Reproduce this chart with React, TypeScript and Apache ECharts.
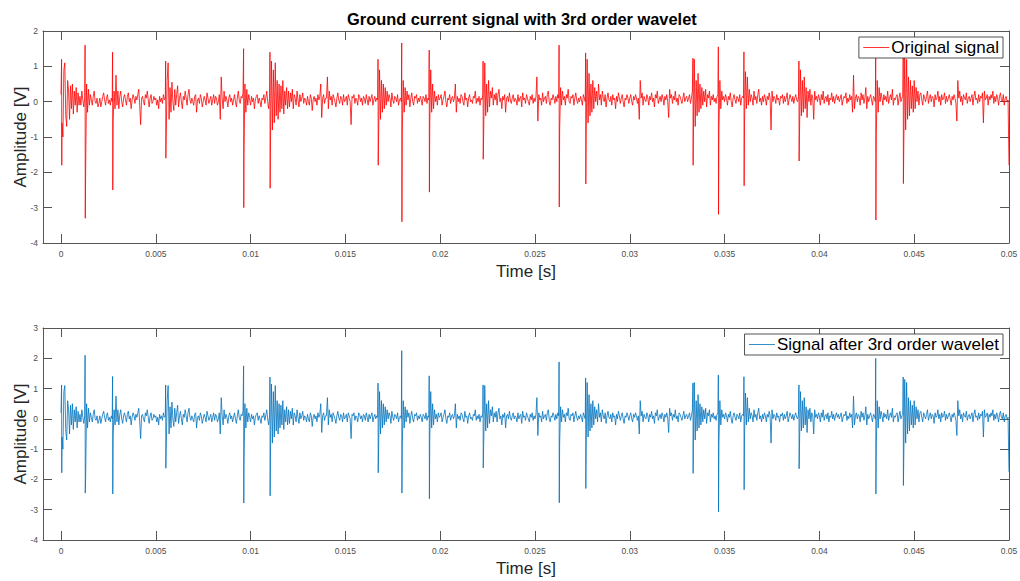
import React, { useEffect, useRef } from "react";
import * as echarts from "echarts";

// sample step of the baseline trace [s]
const STEP = 0.00005;

// baseline trace, one row per ms (20 samples)
const baseline = [
  0.2, -0.6, -1.0, 0.9, 1.1, -0.4, -0.7, 0.6, 0.3, -0.5, 0.45, -0.2, 0.5, -0.35, 0.3, -0.1, 0.4, -0.3, 0.25, -0.1,
  0.15, -0.1, 0.3, 0.05, -0.15, 0.1, -1.9, 0.5, -0.3, 0.35, -0.1, 0.2, 0.05, -0.1, 0.15, 0.3, 0.0, -0.05, 0.1, -0.15,
  -0.05, 0.1, -0.15, 0.0, 0.15, 0.25, 0.05, -0.1, 0.1, 0.2, -0.05, 0.05, -0.1, 0.1, 0.0, -0.6, 0.3, -0.2, 0.75, -0.1,
  0.3, -0.2, 0.15, 0.3, 0.0, -0.15, 0.1, 0.2, 0.05, -0.1, 0.15, 0.25, 0.0, 0.1, -0.2, 0.05, 0.2, 0.1, -0.05, 0.15,
  0.05, 0.2, 0.35, -0.1, -0.65, 0.1, 0.15, 0.0, -0.1, 0.2, 0.1, 0.3, 0.05, -0.15, 0.1, 0.2, -0.05, 0.0, 0.15, 0.05,
  0.1, -0.1, 0.05, -0.2, 0.15, 0.0, 0.1, -0.05, 0.2, 0.05, 0.1, -0.9, 0.6, 1.1, -0.5, 0.4, -0.3, 0.55, 0.0, -0.25,
  0.35, -0.1, 0.2, 0.45, -0.15, 0.1, 0.25, 0.0, -0.2, 0.15, 0.05, 0.3, 0.1, -0.1, 0.2, 0.35, 0.05, -0.05, 0.1, 0.0,
  -0.1, 0.15, 0.2, -0.3, 0.05, 0.1, -0.05, 0.2, 0.1, -0.15, 0.0, 0.15, 0.05, -0.1, 0.25, 0.1, -0.05, 0.05, 0.15, -0.1,
  0.05, 0.2, -0.05, 0.15, 0.1, -0.1, 0.0, 0.2, -0.5, 0.7, 0.1, -0.2, 0.3, 0.0, 0.15, 0.05, -0.15, 0.1, 0.2, 0.0,
  0.1, -0.1, 0.05, 0.2, 0.0, -0.15, 0.1, 0.3, 0.05, -0.05, 0.15, 0.1, 0.25, -1.5, 0.5, -0.3, 0.35, -0.1, 0.2, 0.05,
  -0.1, 0.15, 0.0, 0.1, -0.2, 0.05, 0.15, 0.2, -0.05, 0.1, 0.0, -0.15, 0.1, 0.05, 0.2, -0.05, 0.1, 0.3, 0.0, -0.2,
  0.1, -1.0, 1.15, -0.8, 0.9, -0.6, 1.1, -0.4, 0.6, -0.5, 0.5, -0.3, 0.45, -0.2, 0.6, -0.35, 0.3, -0.1, 0.4, -0.2,
  0.3, -0.15, 0.25, 0.0, 0.35, -0.2, 0.2, 0.1, -0.1, 0.3, 0.05, -0.15, 0.2, 0.0, 0.1, 0.25, -0.05, 0.1, 0.05, -0.1,
  0.15, 0.0, -0.1, 0.2, 0.1, -0.25, 0.05, 0.15, 0.0, 0.1, -0.1, 0.2, 0.05, 0.15, 0.5, -0.45, 0.1, 0.2, -0.05, 0.1,
  0.1, 0.7, -0.2, 0.3, 0.05, 0.15, -0.1, 0.2, 0.1, 0.0, -0.15, 0.1, 0.25, 0.05, -0.05, 0.15, 0.1, -0.1, 0.2, 0.0,
  0.05, 0.15, -0.1, 0.2, 0.1, 0.0, -0.65, 0.15, 0.1, 0.2, -0.05, 0.1, 0.05, -0.1, 0.2, 0.15, 0.0, 0.1, -0.1, 0.15,
  0.1, -0.05, 0.2, 0.05, -0.1, 0.15, 0.0, 0.1, 0.2, -0.1, 0.05, 0.15, 0.0, 0.1, 0.05, -1.0, 0.9, -0.5, 0.6, -0.3,
  0.5, -0.2, 0.4, -0.1, 0.3, 0.0, 0.2, 0.1, -0.15, 0.25, 0.05, -0.05, 0.15, 0.1, 0.0, 0.2, -0.1, 0.05, 0.1, 0.0,
  -0.9, 0.6, -0.3, 0.4, -0.1, 0.3, 0.05, 0.2, -0.15, 0.1, 0.25, 0.0, -0.1, 0.15, 0.1, 0.2, -0.05, 0.1, 0.0, 0.15,
  0.05, -0.1, 0.15, 0.1, 0.0, 0.2, -0.05, 0.1, 0.05, -0.6, 0.9, -0.3, 0.5, -0.2, 0.3, 0.0, 0.15, -0.1, 0.2, 0.05,
  0.1, 0.2, -0.1, 0.05, 0.15, 0.3, 0.0, -0.15, 0.1, 0.05, 0.2, -0.05, 0.1, 0.15, 0.0, 0.1, 0.5, -0.3, 0.15, 0.0,
  0.1, -0.05, 0.2, 0.15, 0.0, -0.1, 0.25, 0.05, 0.1, -0.15, 0.1, 0.2, 0.0, 0.05, -0.05, 0.15, 0.1, 0.3, -0.05, 0.1,
  0.0, 0.15, -0.1, 0.1, 0.05, 0.2, -0.6, 1.1, -0.4, 0.5, -0.3, 0.6, -0.15, 0.3, 0.1, 0.4, -0.1, 0.2, 0.05, 0.25,
  -0.1, 0.2, 0.35, 0.0, 0.1, -0.2, 0.15, 0.05, 0.2, -0.3, 0.1, 0.15, 0.0, 0.25, 0.05, -0.05, 0.1, 0.2, 0.0, 0.1,
  0.05, -0.1, 0.2, 0.0, 0.1, 0.15, -0.15, 0.25, 0.05, 0.1, -0.05, 0.2, 0.1, 0.0, -0.1, 0.15, 0.05, 0.2, -0.05, 0.1,
  0.0, 0.15, 0.7, -0.55, 0.2, 0.05, 0.1, -0.1, 0.25, 0.0, 0.1, 0.15, -0.05, 0.2, 0.3, 0.0, -0.1, 0.1, 0.05, 0.2,
  0.1, -0.05, 0.15, 0.0, 0.2, 0.1, -0.8, 0.4, -0.1, 0.3, 0.05, 0.15, -0.1, 0.2, 0.1, 0.35, 0.0, -0.05, 0.15, 0.1,
  0.2, -0.1, 0.1, 0.25, 0.05, -0.05, 0.1, 0.0, 0.15, 0.05, -0.1, 0.2, 0.1, 0.0, -0.9, 1.2, -0.6, 0.8, -0.4, 0.5,
  -0.3, 0.6, -0.2, 0.4, 0.0, 0.3, -0.1, 0.5, 0.05, 0.2, -0.1, 0.3, 0.1, 0.0, 0.2, -0.15, 0.1, 0.25, 0.05, 0.0,
  0.15, -0.1, 0.2, 0.05, 0.1, -0.2, 0.15, 0.0, 0.25, 0.1, -0.05, 0.1, 0.2, 0.0, -0.15, 0.1, 0.05, 0.2, 0.1, -0.05,
  0.1, 0.2, 0.0, -0.1, 0.15, 0.05, 0.2, 0.1, -0.05, 0.1, -0.5, 0.6, 0.1, 0.25, -0.1, 0.15, 0.05, 0.0, 0.2, 0.1,
  -0.1, 0.15, 0.05, 0.25, 0.0, 0.1, -0.15, 0.2, 0.1, 0.3, -0.05, 0.05, 0.15, 0.0, 0.2, 0.1, -0.1, 0.15, 0.05, 0.2,
  0.0, -0.45, 0.35, 0.1, 0.2, -0.05, 0.15, 0.05, 0.3, 0.0, 0.1, -0.1, 0.2, 0.15, 0.05, -0.05, 0.1, 0.25, 0.0, 0.1,
  0.15, 0.0, 0.1, 0.2, -0.05, 0.1, 0.3, -1.0, 1.2, -0.7, 0.6, -0.4, 0.8, -0.3, 0.5, -0.2, 0.4, -0.1, 0.3, 0.0,
  0.35, -0.15, 0.2, 0.1, 0.3, -0.1, 0.15, 0.05, 0.2, 0.0, 0.1, -0.05, 0.15, 0.2, -0.8, 0.6, -0.2, 0.3, 0.05, 0.15,
  0.0, 0.2, 0.1, -0.1, 0.15, 0.05, 0.25, 0.0, -0.15, 0.1, 0.2, 0.05, -0.05, 0.15, 0.1, 0.0, 0.2, -0.1, 0.1, 0.15,
  0.1, -0.6, 0.85, -0.2, 0.7, -0.1, 0.35, 0.0, 0.2, 0.1, -0.1, 0.3, 0.05, 0.15, -0.05, 0.2, 0.35, 0.0, 0.1, -0.1,
  0.15, 0.0, 0.2, 0.1, -0.1, 0.15, 0.05, 0.25, 0.1, -0.8, 0.3, 0.0, 0.15, 0.1, -0.05, 0.2, 0.05, 0.1, -0.1, 0.15,
  0.1, 0.2, -0.05, 0.15, 0.0, 0.1, 0.25, -0.1, 0.05, 0.2, 0.1, 0.0, 0.15, -0.05, 0.1, 0.2, 0.05, 0.0, 0.15, -0.9,
  0.9, -0.4, 0.6, -0.3, 0.7, -0.2, 0.4, -0.45, 0.3, 0.0, 0.35, -0.1, 0.2, 0.1, -0.5, 0.3, 0.05, 0.15, 0.0, 0.2,
  0.1, -0.1, 0.2, 0.05, 0.3, -0.05, 0.1, 0.15, 0.0, 0.2, -0.1, 0.1, 0.05, 0.25, 0.0, 0.15, -0.05, 0.1, 0.2, 0.05,
  0.15, 0.0, 0.1, 0.2, -0.1, 0.05, 0.15, 0.1, 0.25, -0.05, 0.1, 0.0, 0.2, 0.05, 0.15, -0.3, 0.75, -0.2, 0.1, 0.2,
  0.0, 0.15, 0.1, -0.1, 0.25, 0.05, 0.2, -0.05, 0.1, 0.4, -0.2, 0.15, 0.0, 0.1, 0.2, 0.05, -0.1, 0.15, 0.1, 0.0,
  -0.9, 0.6, -0.3, 0.4, 0.0, 0.25, 0.1, -0.1, 0.2, 0.05, 0.15, 0.0, 0.3, -0.05, 0.1, 0.2, 0.05, 0.35, -0.1, 0.1,
  0.05, 0.15, 0.2, -0.1, 0.1, 0.25, 0.0, 0.1, 0.15, -1.3, 1.3, -0.8, 1.2, -0.5, 0.7, -0.4, 0.6, -0.2, 0.45, -0.3,
  0.6, -0.2, 0.4, 0.0, 0.3, -0.1, 0.2, 0.25, 0.05, -0.1, 0.2, 0.1, 0.0, 0.15, 0.3, -0.05, 0.1, 0.2, 0.0, 0.15,
  0.1, -0.15, 0.2, 0.05, 0.1, 0.3, 0.0, 0.15, -0.1, 0.2, 0.05, 0.1, 0.25, -0.05, 0.15, 0.0, 0.1, 0.2, 0.05, -0.1,
  0.15, 0.05, 0.2, 0.1, -0.05, -0.55, 0.6, 0.1, 0.3, 0.0, 0.15, -0.1, 0.2, 0.1, 0.05, 0.25, -0.05, 0.1, 0.15, 0.0,
  0.1, 0.2, -0.1, 0.15, 0.3, 0.05, 0.1, -0.05, 0.2, 0.0, 0.15, 0.1, 0.25, -0.6, 0.3, 0.05, 0.1, 0.2, -0.1, 0.15,
  0.05, 0.2, 0.1, 0.3, -0.05, 0.15, 0.0, 0.2, 0.1, -0.1, 0.15, 0.25, 0.05, 0.0, 0.2, -0.1, 0.1, 0.15, 0.0, 0.05,
];

// partial-discharge spike instants [s]
const spikeTimes = [
  0.00003, 0.00127, 0.00272, 0.00552, 0.00963, 0.01102, 0.01672, 0.01797, 0.01942,
  0.02226, 0.02627, 0.02767, 0.03333, 0.03467, 0.03602, 0.03892, 0.04297, 0.04442,
];
// spike peaks, original signal
const origUp = [1.2, 1.6, 1.4, 1.15, 1.5, 1.4, 1.2, 1.66, 1.46, 1.15, 1.6, 1.38, 1.23, 1.55, 1.41, 1.15, 1.3, 1.25];
const origDown = [-1.8, -3.3, -2.5, -1.6, -3.0, -2.45, -1.8, -3.4, -2.56, -1.63, -2.98, -2.33, -1.8, -3.19, -2.38, -1.68, -3.35, -2.32];
// spike peaks, signal after wavelet
const waveUp = [1.12, 2.1, 1.4, 1.12, 1.75, 1.38, 1.18, 2.25, 1.42, 1.12, 1.88, 1.35, 1.18, 1.45, 1.39, 1.12, 2.0, 1.38];
const waveDown = [-1.78, -2.45, -2.48, -1.63, -2.78, -2.54, -1.78, -2.45, -2.64, -1.62, -2.77, -2.3, -1.8, -3.07, -2.34, -1.65, -2.48, -2.2];
// final sample at t = 0.05 s
const END_T = 0.05;
const origEnd = -1.8;
const waveEnd = -1.75;

const xTicks = [0, 0.005, 0.01, 0.015, 0.02, 0.025, 0.03, 0.035, 0.04, 0.045, 0.05];

function buildSeries(up: number[], down: number[], endVal: number): number[][] {
  const pts: number[][] = baseline.map((v, i) => [i * STEP, v]);
  spikeTimes.forEach((t, k) => {
    pts.push([t, up[k]]);
    pts.push([t + 0.00001, down[k]]);
  });
  pts.push([END_T, endVal]);
  pts.sort((a, b) => a[0] - b[0]);
  return pts;
}

const FONT = "'Liberation Sans', Arial, Helvetica, sans-serif";
const AXIS_COLOR = "#555555";
const LABEL_COLOR = "#4d4d4d";

function xAxes(gridIndex: number) {
  return [
    {
      type: "value",
      gridIndex,
      min: -0.00095,
      max: 0.05,
      position: "bottom",
      name: "Time [s]",
      nameLocation: "middle",
      nameGap: 20,
      nameTextStyle: { fontSize: 17, color: "#262626", fontFamily: FONT },
      axisLine: { show: true, onZero: false, lineStyle: { color: AXIS_COLOR, width: 1 } },
      axisTick: { show: true, inside: true, length: 9, customValues: xTicks, lineStyle: { color: AXIS_COLOR } },
      axisLabel: {
        show: true,
        customValues: xTicks,
        fontSize: 8.5,
        color: LABEL_COLOR,
        fontFamily: FONT,
        margin: 6,
        formatter: (v: number) => String(v),
      },
      splitLine: { show: false },
    },
    {
      type: "value",
      gridIndex,
      min: -0.00095,
      max: 0.05,
      position: "top",
      axisLine: { show: true, onZero: false, lineStyle: { color: AXIS_COLOR, width: 1 } },
      axisTick: { show: true, inside: true, length: 9, customValues: xTicks, lineStyle: { color: AXIS_COLOR } },
      axisLabel: { show: false },
      splitLine: { show: false },
    },
  ];
}

function yAxes(gridIndex: number, min: number, max: number) {
  return [
    {
      type: "value",
      gridIndex,
      min,
      max,
      interval: 1,
      position: "left",
      name: "Amplitude [V]",
      nameLocation: "middle",
      nameGap: 14,
      nameMoveOverlap: false,
      nameTextStyle: { fontSize: 17, color: "#262626", fontFamily: FONT },
      axisLine: { show: true, onZero: false, lineStyle: { color: AXIS_COLOR, width: 1 } },
      axisTick: { show: true, inside: true, length: 9, lineStyle: { color: AXIS_COLOR } },
      axisLabel: { show: true, fontSize: 8.5, color: LABEL_COLOR, fontFamily: FONT, margin: 5 },
      splitLine: { show: false },
    },
    {
      type: "value",
      gridIndex,
      min,
      max,
      interval: 1,
      position: "right",
      axisLine: { show: true, onZero: false, lineStyle: { color: AXIS_COLOR, width: 1 } },
      axisTick: { show: true, inside: true, length: 9, lineStyle: { color: AXIS_COLOR } },
      axisLabel: { show: false },
      splitLine: { show: false },
    },
  ];
}

export default function App() {
  const ref = useRef<HTMLDivElement>(null);

  useEffect(() => {
    if (!ref.current) return;
    const chart = echarts.init(ref.current, undefined, { renderer: "svg" });
    const legendCommon = {
      orient: "vertical",
      right: 17,
      padding: [2, 4, 2, 4],
      itemWidth: 26,
      itemHeight: 10,
      itemGap: 0,
      backgroundColor: "#ffffff",
      borderColor: "#262626",
      borderWidth: 0.8,
      borderRadius: 0,
      itemStyle: { opacity: 0 },
      lineStyle: { width: 0.8 },
      textStyle: { fontSize: 17, color: "#000000", fontFamily: FONT, padding: [0, 0, 0, -3] },
      selectedMode: false,
    };
    chart.setOption({
      animation: false,
      backgroundColor: "#ffffff",
      title: {
        text: "Ground current signal with 3rd order wavelet",
        left: 342,
        top: 6,
        textStyle: { fontSize: 16.4, fontWeight: "bold", color: "#000000", fontFamily: FONT },
      },
      legend: [
        { ...legendCommon, top: 37, data: ["Original signal"] },
        { ...legendCommon, top: 334, data: ["Signal after 3rd order wavelet"] },
      ],
      grid: [
        { left: 43, top: 31, width: 966, height: 212, outerBoundsMode: "none", containLabel: false },
        { left: 43, top: 328, width: 966, height: 212, outerBoundsMode: "none", containLabel: false },
      ],
      xAxis: [...xAxes(0), ...xAxes(1)],
      yAxis: [...yAxes(0, -4, 2), ...yAxes(1, -4, 3)],
      series: [
        {
          name: "Original signal",
          type: "line",
          xAxisIndex: 0,
          yAxisIndex: 0,
          data: buildSeries(origUp, origDown, origEnd),
          symbol: "none",
          color: "#ff0000",
          lineStyle: { color: "#ff0000", width: 0.8 },
        },
        {
          name: "Signal after 3rd order wavelet",
          type: "line",
          xAxisIndex: 2,
          yAxisIndex: 2,
          data: buildSeries(waveUp, waveDown, waveEnd),
          symbol: "none",
          color: "#0072bd",
          lineStyle: { color: "#0072bd", width: 0.8 },
        },
      ],
    });
    return () => chart.dispose();
  }, []);

  return (
    <div
      ref={ref}
      style={{ position: "fixed", left: 0, top: 0, width: 1020, height: 581, background: "#fff" }}
    />
  );
}
